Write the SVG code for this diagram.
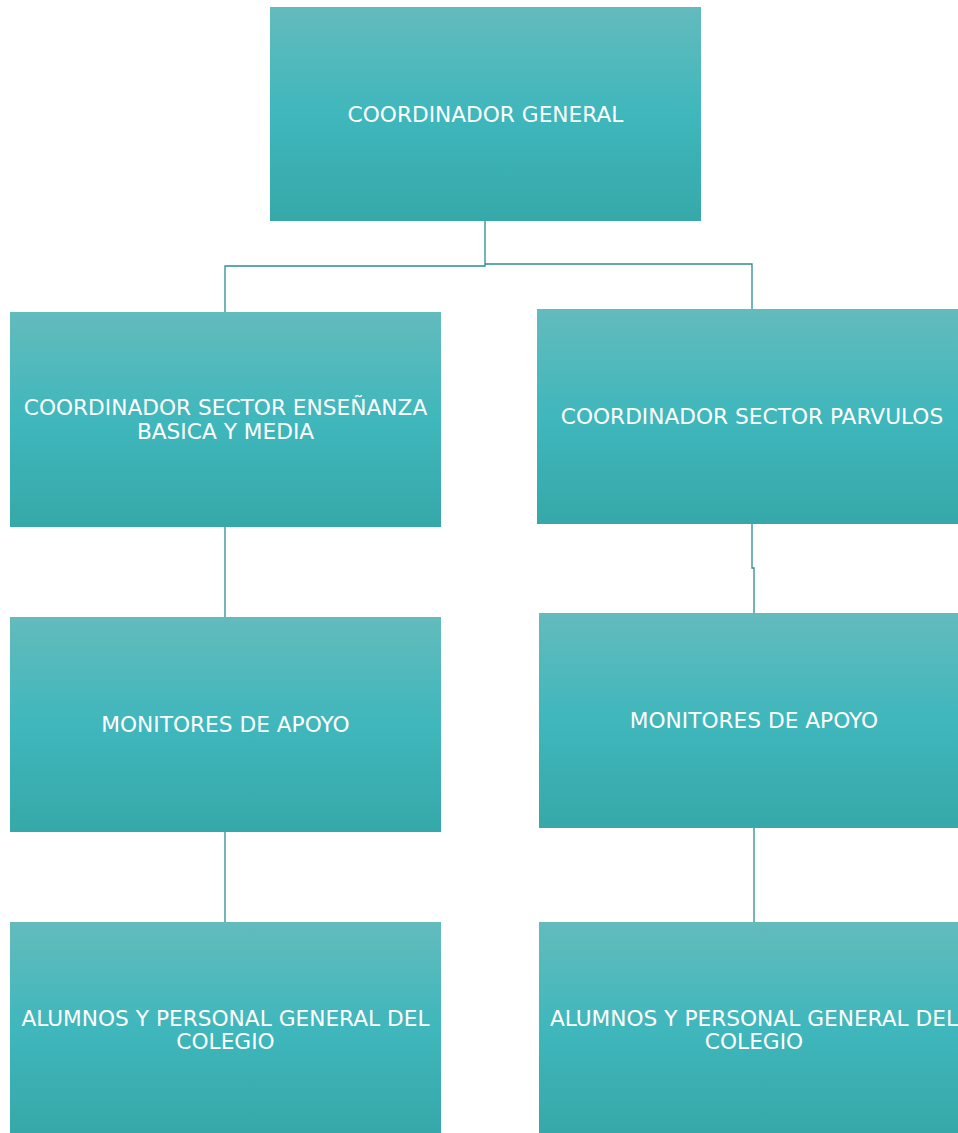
<svg xmlns="http://www.w3.org/2000/svg" width="958" height="1133" viewBox="0 0 958 1133">
<defs>
<linearGradient id="g" x1="0" y1="0" x2="0" y2="1">
<stop offset="0" stop-color="#63bbbd"/>
<stop offset="0.5" stop-color="#3fb7bc"/>
<stop offset="1" stop-color="#36a8a9"/>
</linearGradient>
</defs>
<style>
.box{fill:url(#g);}
.t{fill:#ffffff;font-family:"DejaVu Sans",Verdana,sans-serif;font-size:21.7px;text-anchor:middle;dominant-baseline:central;}
.c{fill:none;stroke:#2a8d90;stroke-width:1.3;}
</style>
<rect width="958" height="1133" fill="#ffffff"/>
<g id="connectors">
<polyline class="c" points="485,221 485,266 225,266 225,312"/>
<polyline class="c" points="485,264 752,264 752,309"/>
<polyline class="c" points="752,524 752,568 754,568 754,613"/>
<line class="c" x1="225" y1="527" x2="225" y2="617"/>
<line class="c" x1="225" y1="832" x2="225" y2="922"/>
<line class="c" x1="754" y1="828" x2="754" y2="922"/>
</g>
<g id="n1"><rect class="box" x="270" y="7" width="431" height="214"/><text class="t" x="485.5" y="114">COORDINADOR GENERAL</text></g>
<g id="n2"><rect class="box" x="10" y="312" width="431" height="215"/><text class="t" x="225.5" y="407">COORDINADOR SECTOR ENSEÑANZA</text><text class="t" x="225.5" y="431">BASICA Y MEDIA</text></g>
<g id="n3"><rect class="box" x="537" y="309" width="421" height="215"/><text class="t" x="752" y="416">COORDINADOR SECTOR PARVULOS</text></g>
<g id="n4"><rect class="box" x="10" y="617" width="431" height="215"/><text class="t" x="225.5" y="724">MONITORES DE APOYO</text></g>
<g id="n5"><rect class="box" x="539" y="613" width="419" height="215"/><text class="t" x="754" y="720">MONITORES DE APOYO</text></g>
<g id="n6"><rect class="box" x="10" y="922" width="431" height="211"/><text class="t" x="225.5" y="1018">ALUMNOS Y PERSONAL GENERAL DEL</text><text class="t" x="225.5" y="1041">COLEGIO</text></g>
<g id="n7"><rect class="box" x="539" y="922" width="419" height="211"/><text class="t" x="754" y="1018">ALUMNOS Y PERSONAL GENERAL DEL</text><text class="t" x="754" y="1041">COLEGIO</text></g>
</svg>
